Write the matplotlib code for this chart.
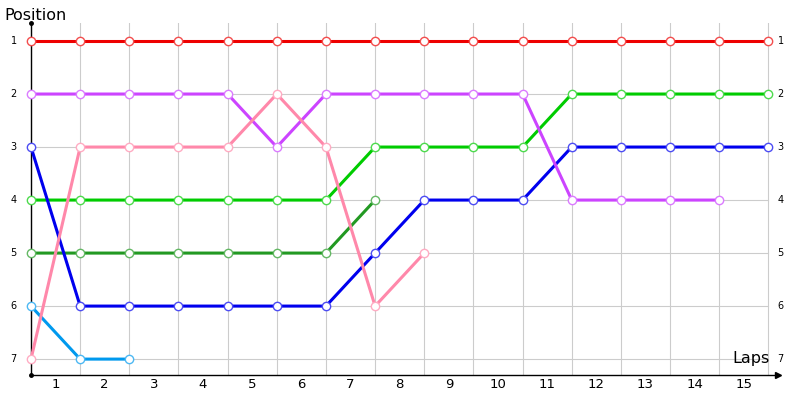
import matplotlib
matplotlib.use("Agg")
import matplotlib.pyplot as plt
import matplotlib.colors as mcolors
import numpy as np

# positions per lap (lap 0 = start)
laps_label = list(range(1, 16))
positions = [1, 2, 3, 4, 5, 6, 7]

red = [1] * 16
purple = [2, 2, 2, 2, 2, 3, 2, 2, 2, 2, 2, 4, 4, 4, 4]
green = [4, 4, 4, 4, 4, 4, 4, 3, 3, 3, 3, 2, 2, 2, 2, 2]
darkgreen = [5, 5, 5, 5, 5, 5, 5, 4]
blue = [3, 6, 6, 6, 6, 6, 6, 5, 4, 4, 4, 3, 3, 3, 3, 3]
lightblue = [6, 7, 7]
pink = [7, 3, 3, 3, 3, 2, 3, 6, 5]

series = [
    (red, "#ee0000"),
    (green, "#00cc00"),
    (darkgreen, "#229922"),
    (blue, "#0000ee"),
    (lightblue, "#0099ee"),
    (purple, "#cc44ff"),
    (pink, "#ff88aa"),
]

def lighter(c, f=0.3):
    r, g, b = mcolors.to_rgb(c)
    return (r + (1 - r) * f, g + (1 - g) * f, b + (1 - b) * f)

fig = plt.figure(figsize=(8, 4), dpi=100)
ax = fig.add_axes([0.03875, 0.0625, 0.934, 0.88])
ax.set_xlim(0, 15.2)
ax.set_ylim(7.3, 0.66)

# grid
for x in range(16):
    ax.plot([x, x], [7.3, 0.66], color="#cccccc", lw=0.8, zorder=0)
for y in positions:
    ax.plot([0, 15], [y, y], color="#cccccc", lw=0.8, zorder=0)

for vals, c in series:
    ax.plot(range(len(vals)), vals, color=c, lw=2.2, marker="o", ms=6,
            mfc="white", mec=lighter(c), mew=1.0, zorder=3, clip_on=False)

for s in ["top", "right"]:
    ax.spines[s].set_visible(False)
ax.spines["left"].set_color("black")
ax.spines["bottom"].set_color("black")
ax.spines["left"].set_linewidth(1)
ax.spines["bottom"].set_linewidth(1)
ax.plot(1, 0, ">k", ms=5, transform=ax.transAxes, clip_on=False)
ax.plot(0, 1, "ok", ms=2.5, transform=ax.transAxes, clip_on=False)
ax.plot(0, 0, "ok", ms=2.5, transform=ax.transAxes, clip_on=False)

ax.set_xticks([])
ax.set_yticks([])
for i, lab in enumerate(laps_label):
    ax.text(i + 0.5, 7.48, str(lab), ha="center", va="center", fontsize=9.5)
for p in positions:
    ax.text(-0.35, p, str(p), ha="center", va="center", fontsize=7)
    ax.text(15.25, p, str(p), ha="center", va="center", fontsize=7)

fig.text(0.005, 0.962, "Position", fontsize=11.5, ha="left", va="center")
ax.text(14.65, 6.98, "Laps", fontsize=11.5, ha="center", va="center")

fig.savefig("out.png", dpi=100)
